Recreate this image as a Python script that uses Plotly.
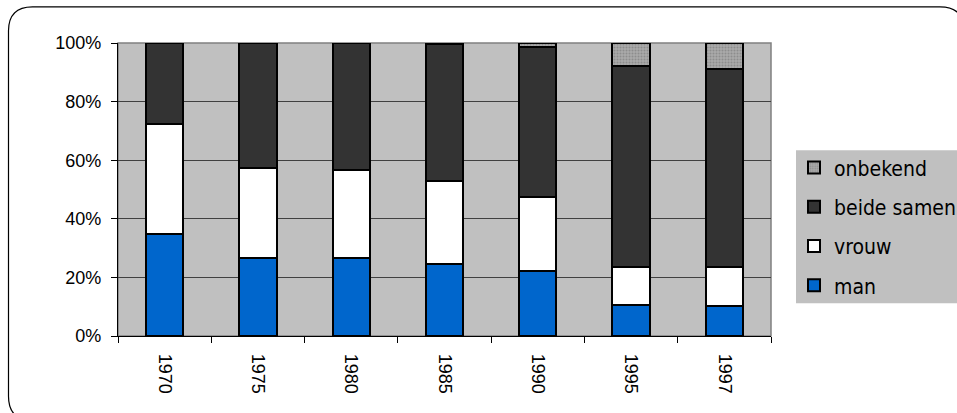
import plotly.graph_objects as go

years = ["1970", "1975", "1980", "1985", "1990", "1995", "1997"]
man = [34.7, 26.6, 26.6, 24.6, 22.2, 10.5, 10.1]
vrouw = [37.6, 30.6, 30.0, 28.2, 25.2, 13.1, 13.5]
beide_samen = [27.7, 42.8, 43.4, 46.7, 51.3, 68.5, 67.4]
onbekend = [0.0, 0.0, 0.0, 0.5, 1.3, 7.9, 9.0]
y_ticks = [0, 20, 40, 60, 80, 100]

W, H = 957, 413
L, R, T, B = 118, 771, 42.7, 335.7


def px(x):
    return (x - L) / (R - L)


def py(y):
    return (B - y) / (B - T)


line = dict(color="black", width=2)
fig = go.Figure()
fig.add_bar(x=years, y=man, name="man", marker=dict(color="#0066CC", line=line),
            legendrank=4, legendgroup="man")
fig.add_bar(x=years, y=vrouw, name="vrouw", marker=dict(color="#FFFFFF", line=line),
            legendrank=3, legendgroup="vrouw")
fig.add_bar(x=years, y=beide_samen, name="beide samen",
            marker=dict(color="#333333", line=line), legendrank=2, legendgroup="beide")
fig.add_bar(x=years, y=onbekend, name="onbekend",
            marker=dict(color="#A0A0A0", line=line,
                        pattern=dict(shape=".", fgcolor="#707070", bgcolor="#ABABAB",
                                     size=3, solidity=0.4)),
            legendrank=1, legendgroup="onbekend")

fig.update_traces(width=0.4)

# rounded outer border
l0, t0, r0, b0, rad = 8.5, 6.5, 964, 420, 24
pts = lambda x, y: f"{px(x):.5f},{py(y):.5f}"
path = (f"M {pts(l0 + rad, t0)} L {pts(r0 - rad, t0)} Q {pts(r0, t0)} {pts(r0, t0 + rad)} "
        f"L {pts(r0, b0 - rad)} Q {pts(r0, b0)} {pts(r0 - rad, b0)} "
        f"L {pts(l0 + rad, b0)} Q {pts(l0, b0)} {pts(l0, b0 - rad)} "
        f"L {pts(l0, t0 + rad)} Q {pts(l0, t0)} {pts(l0 + rad, t0)} Z")

shapes = [
    dict(type="path", xref="paper", yref="paper", path=path,
         line=dict(color="black", width=1.2), layer="below"),
    # legend background
    dict(type="rect", xref="paper", yref="paper", x0=px(796), x1=px(965),
         y0=py(303), y1=py(150), fillcolor="#C0C0C0", line=dict(width=0), layer="below"),
    # plot border (top/right grey)
    dict(type="rect", xref="paper", yref="paper", x0=0, x1=1, y0=0, y1=1,
         line=dict(color="#808080", width=1.5), layer="below"),
]

fig.update_layout(
    width=W, height=H,
    barmode="stack",
    paper_bgcolor="white",
    plot_bgcolor="#C0C0C0",
    margin=dict(l=L, r=W - R, t=T, b=H - B, pad=0, autoexpand=False),
    shapes=shapes,
    showlegend=True,
    legend=dict(
        traceorder="grouped",
        tracegroupgap=9,
        x=px(794), y=py(147), xanchor="left", yanchor="top",
        bgcolor="rgba(0,0,0,0)",
        font=dict(family="DejaVu Sans Condensed", size=21, color="black"),
        itemwidth=30,
    ),
    font=dict(family="Liberation Sans, Arial", size=18, color="black"),
)

fig.update_xaxes(
    type="category",
    tickson="boundaries",
    ticks="outside", ticklen=6, tickcolor="black", tickwidth=1,
    tickangle=90,
    ticklabelstandoff=13,
    showline=True, linecolor="black", linewidth=1.2,
    showgrid=False,
    tickfont=dict(size=18),
)
fig.update_yaxes(
    range=[0, 100],
    tickvals=y_ticks,
    ticktext=[f"{v}%" for v in y_ticks],
    ticks="outside", ticklen=6, tickcolor="black", tickwidth=1,
    ticklabelstandoff=6,
    showline=True, linecolor="black", linewidth=1.2,
    showgrid=True, gridcolor="#404040", gridwidth=1,
    zeroline=False,
    tickfont=dict(size=18),
)

fig.write_html(
    "out.html",
    config={"displayModeBar": False},
    post_script="document.body.style.margin='0';document.body.style.overflow='hidden';",
)
